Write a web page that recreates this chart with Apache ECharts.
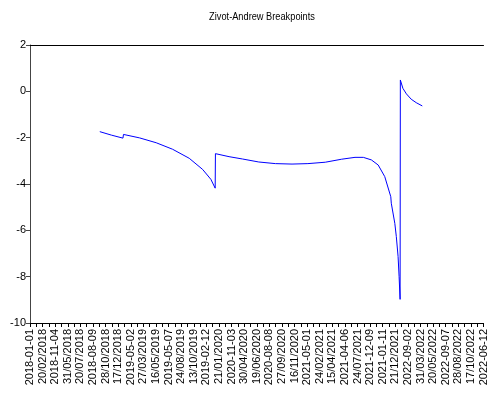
<!DOCTYPE html>
<html>
<head>
<meta charset="utf-8">
<script src="https://cdn.jsdelivr.net/npm/echarts@6/dist/echarts.min.js"></script>
<style>html,body{margin:0;padding:0;background:#fff}#c{width:489px;height:401px}</style>
</head>
<body>
<div id="c"></div>
<script>
// Tick labels along the x axis (one every 50 days, ticks every 25 days)
const tickLabels = ["2018-01-01","20/02/2018","2018-11-04","31/05/2018","20/07/2018","2018-08-09","28/10/2018","17/12/2018","2019-05-02","27/03/2019","16/05/2019","2019-05-07","24/08/2019","13/10/2019","2019-02-12","21/01/2020","2020-11-03","30/04/2020","19/06/2020","2020-08-08","27/09/2020","16/11/2020","2021-05-01","24/02/2021","15/04/2021","2021-04-06","24/07/2021","2021-12-09","2021-01-11","21/12/2021","2022-09-02","31/03/2022","20/05/2022","2022-09-07","28/08/2022","17/10/2022","2022-06-12"];
// Day index since first date
const days = [277,323,369,371,372,435,501,566,632,685,718,735,
  736,790,843,908,974,1040,1103,1105,1108,1172,1237,1290,1323,1355,1382,1408,1432,1434,1448,1454,1461,1465,1469,
  1470,1480,1494,1513,1533,1557];
// Zivot-Andrews statistic
const stat = [-1.74,-1.89,-2.02,-1.86,-1.87,-2.01,-2.22,-2.50,-2.89,-3.37,-3.80,-4.18,
  -2.69,-2.82,-2.92,-3.05,-3.12,-3.14,-3.12,-3.17,-3.13,-3.06,-2.93,-2.85,-2.85,-2.96,-3.18,-3.68,-4.55,-4.83,-5.70,-6.27,-7.13,-8.00,-8.98,
  0.49,0.13,-0.11,-0.34,-0.49,-0.63];
const yTicks = [-10,-8,-6,-4,-2,0,2];
const titleText = 'Zivot-Andrew Breakpoints';

const chart = echarts.init(document.getElementById('c'), null, {renderer:'canvas'});
chart.setOption({
  animation:false,
  backgroundColor:'#fff',
  graphic:[{
    type:'text', x:262, y:17, scaleX:0.84, scaleY:1,
    style:{text:titleText, x:0, y:0, align:'center', verticalAlign:'middle',
      font:'normal 11px "Liberation Sans", Arial, sans-serif', fill:'#000'}
  }],
  grid:{left:30,right:3,top:45,bottom:78,containLabel:false},
  xAxis:[{
    type:'value',min:0,max:1800,interval:25,
    axisLine:{show:true,onZero:false,lineStyle:{color:'#000',width:1}},
    axisTick:{show:true,length:4,inside:false,lineStyle:{color:'#000'}},
    splitLine:{show:false},
    axisLabel:{rotate:90,fontSize:11,fontFamily:'Liberation Sans, Arial',color:'#000',margin:6,
      showMinLabel:true,showMaxLabel:true,
      formatter:function(v){return v%50===0 ? tickLabels[v/50] : '';}}
  },{
    type:'value',position:'top',min:0,max:1800,
    axisLine:{show:true,onZero:false,lineStyle:{color:'#000',width:1}},
    axisTick:{show:false},axisLabel:{show:false},splitLine:{show:false}
  }],
  yAxis:{
    type:'value',min:yTicks[0],max:yTicks[yTicks.length-1],interval:2,
    axisLine:{show:true,onZero:false,lineStyle:{color:'#444'}},
    axisTick:{show:true,length:4,lineStyle:{color:'#444'}},
    splitLine:{show:false},
    axisLabel:{fontSize:11,fontFamily:'Liberation Sans, Arial',color:'#000',margin:4}
  },
  series:[{
    type:'line',xAxisIndex:0,
    data:days.map((d,i)=>[d,stat[i]]),
    showSymbol:false,
    lineStyle:{color:'#0000ff',width:1},
    itemStyle:{color:'#0000ff'}
  }]
});
</script>
</body>
</html>
